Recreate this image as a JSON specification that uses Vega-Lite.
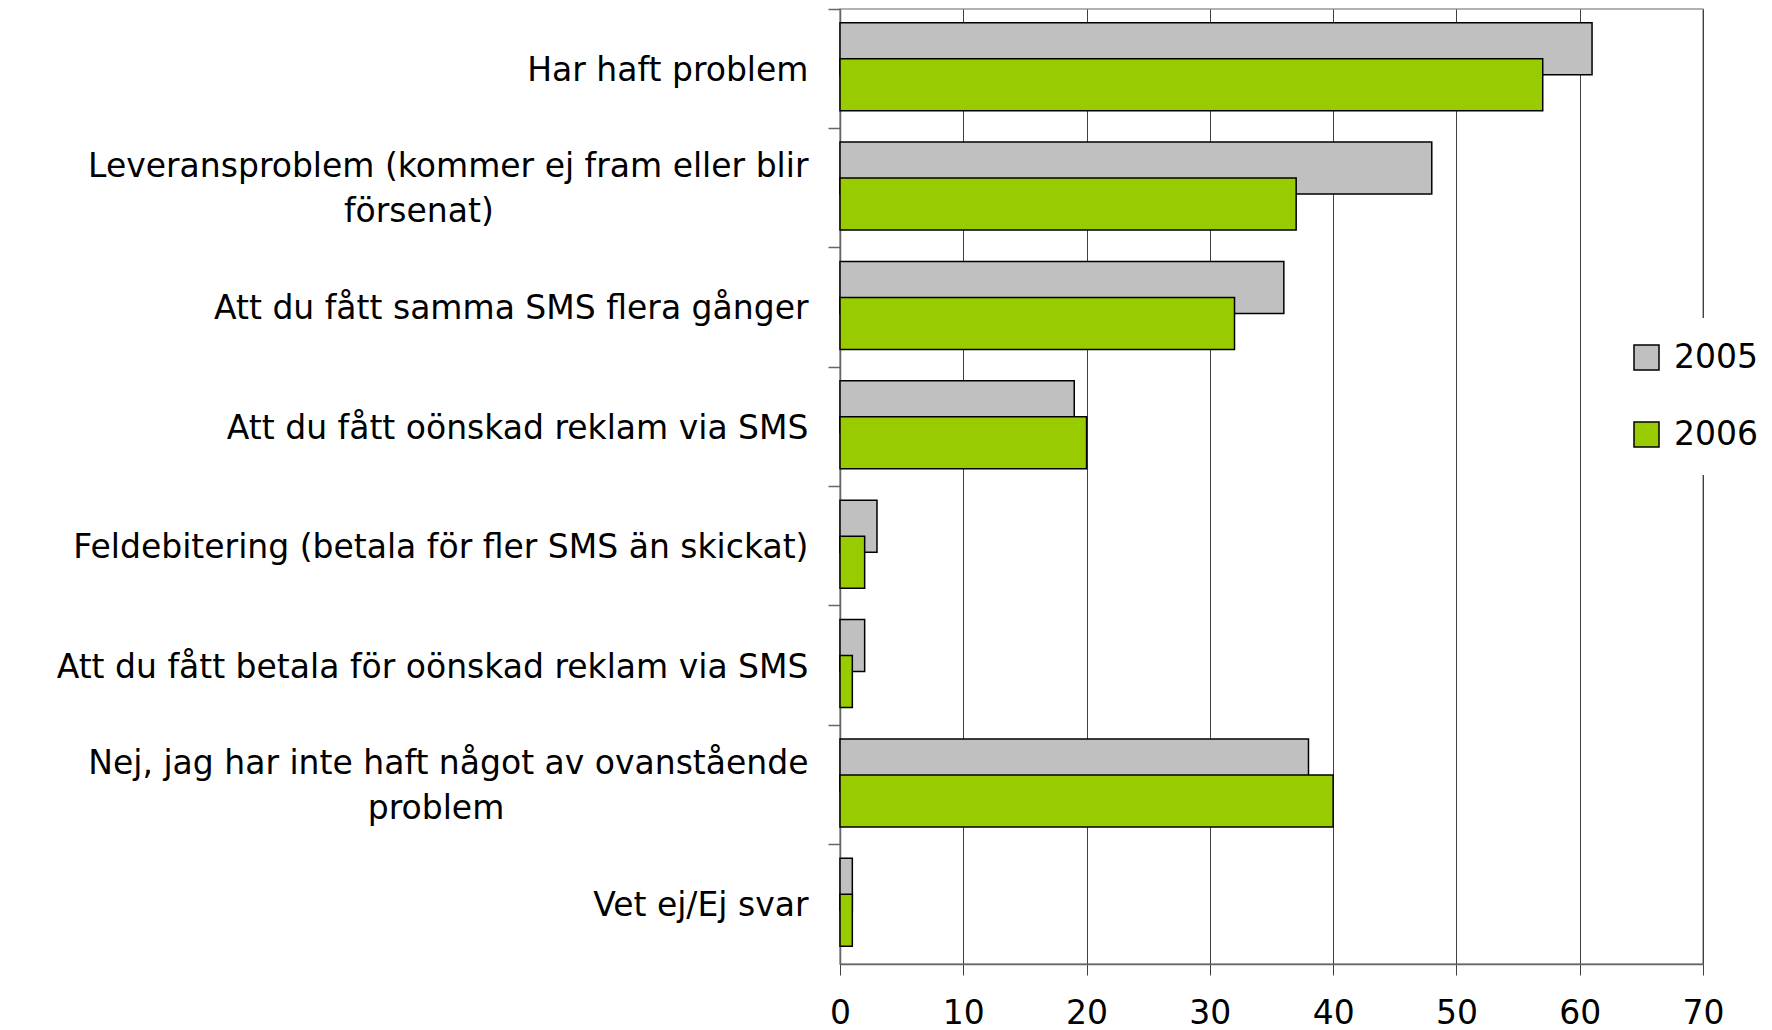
{
  "$schema": "https://vega.github.io/schema/vega-lite/v6.json",
  "autosize": {"type": "none"},
  "width": 863,
  "height": 955,
  "padding": {"left": 840, "top": 9, "right": 69, "bottom": 66},
  "background": "white",
  "config": {
    "font": "DejaVu Sans",
    "view": {"stroke": "#999999", "strokeWidth": 1.5},
    "axis": {"labelFont": "DejaVu Sans", "labelFontSize": 33, "labelColor": "black"},
    "legend": {"labelFont": "DejaVu Sans", "labelFontSize": 33, "labelColor": "black"}
  },
  "data": {
    "values": [
      {"category": "Har haft problem", "year": "2005", "value": 61},
      {"category": "Har haft problem", "year": "2006", "value": 57},
      {"category": "Leveransproblem (kommer ej fram eller blir\nförsenat)", "year": "2005", "value": 48},
      {"category": "Leveransproblem (kommer ej fram eller blir\nförsenat)", "year": "2006", "value": 37},
      {"category": "Att du fått samma SMS flera gånger", "year": "2005", "value": 36},
      {"category": "Att du fått samma SMS flera gånger", "year": "2006", "value": 32},
      {"category": "Att du fått oönskad reklam via SMS", "year": "2005", "value": 19},
      {"category": "Att du fått oönskad reklam via SMS", "year": "2006", "value": 20},
      {"category": "Feldebitering (betala för fler SMS än skickat)", "year": "2005", "value": 3},
      {"category": "Feldebitering (betala för fler SMS än skickat)", "year": "2006", "value": 2},
      {"category": "Att du fått betala för oönskad reklam via SMS", "year": "2005", "value": 2},
      {"category": "Att du fått betala för oönskad reklam via SMS", "year": "2006", "value": 1},
      {"category": "Nej, jag har inte haft något av ovanstående\nproblem", "year": "2005", "value": 38},
      {"category": "Nej, jag har inte haft något av ovanstående\nproblem", "year": "2006", "value": 40},
      {"category": "Vet ej/Ej svar", "year": "2005", "value": 1},
      {"category": "Vet ej/Ej svar", "year": "2006", "value": 1}
    ]
  },
  "encoding": {
    "y": {
      "field": "category",
      "type": "nominal",
      "sort": null,
      "scale": {"paddingInner": 0, "paddingOuter": 0},
      "axis": {
        "title": null,
        "bandPosition": 0,
        "domainColor": "#666666",
        "domainWidth": 1.5,
        "tickColor": "#666666",
        "tickWidth": 1.5,
        "tickSize": 12,
        "labelLimit": 0,
        "labelLineHeight": 45,
        "labelPadding": 20,
        "labelOffset": 2,
        "labelAlign": "right",
        "labelExpr": "indexof(datum.value, '\\n') >= 0 ? [split(datum.value, '\\n')[0], pad(split(datum.value, '\\n')[1], length(split(datum.value, '\\n')[1]) + (length(split(datum.value, '\\n')[1]) > 7 ? 30 : 29), '\u00a0') + '\u2060'] : datum.value",
        "labelBaseline": {"condition": {"test": "indexof(datum.value, '\\n') >= 0", "value": "line-bottom"}, "value": "middle"}
      }
    },
    "x": {
      "field": "value",
      "type": "quantitative",
      "scale": {"domain": [0, 70], "nice": false},
      "axis": {
        "title": null,
        "values": [0, 10, 20, 30, 40, 50, 60, 70],
        "grid": true,
        "gridColor": "#404040",
        "gridWidth": 1,
        "domainColor": "#666666",
        "domainWidth": 1.5,
        "tickColor": "#404040",
        "tickSize": 11,
        "labelFlush": false,
        "labelPadding": 22
      }
    },
    "color": {
      "field": "year",
      "type": "nominal",
      "scale": {"domain": ["2005", "2006"], "range": ["#C0C0C0", "#99CC00"]},
      "legend": {
        "title": null,
        "orient": "none",
        "legendX": 767,
        "legendY": 309,
        "padding": 23,
        "fillColor": "white",
        "symbolType": "square",
        "symbolSize": 625,
        "symbolStrokeColor": "black",
        "symbolStrokeWidth": 1.5,
        "labelOffset": 11,
        "rowPadding": 43
      }
    }
  },
  "layer": [
    {
      "transform": [{"filter": "datum.year == '2005'"}],
      "mark": {"type": "bar", "height": {"band": 0.4355}, "yOffset": -20, "stroke": "black", "strokeWidth": 1.5, "opacity": 1}
    },
    {
      "transform": [{"filter": "datum.year == '2006'"}],
      "mark": {"type": "bar", "height": {"band": 0.4355}, "yOffset": 16, "stroke": "black", "strokeWidth": 1.5, "opacity": 1}
    }
  ]
}
